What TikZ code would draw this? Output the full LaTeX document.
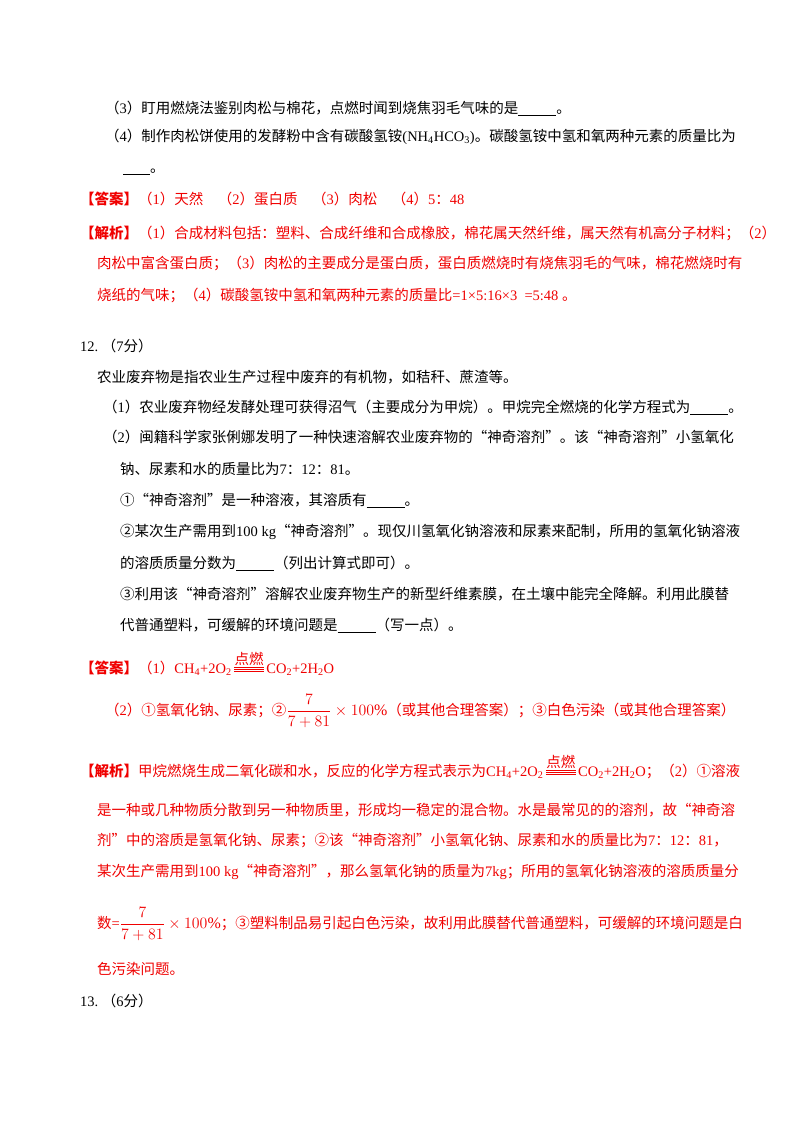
\documentclass[tikz,border=0pt]{standalone}
\usepackage{fontspec}
\setmainfont{Liberation Serif}
\newfontfamily\cjk{Noto Sans CJK SC}
\XeTeXinterchartokenstate=1
\newXeTeXintercharclass\cjkcls
\newcount\cjkcnt
\def\setcjkrange#1#2{\cjkcnt=#1\relax\loop\XeTeXcharclass\cjkcnt=\cjkcls\ifnum\cjkcnt<#2\advance\cjkcnt 1\repeat}
\setcjkrange{"4E00}{"9FFF}
\setcjkrange{"3000}{"303F}
\setcjkrange{"FF00}{"FFEF}
\setcjkrange{"2460}{"2473}
\setcjkrange{"201C}{"201D}
\XeTeXinterchartoks 0 \cjkcls = {\cjk}
\XeTeXinterchartoks 4095 \cjkcls = {\cjk}
\XeTeXinterchartoks \cjkcls 0 = {\rmfamily}
\XeTeXinterchartoks \cjkcls 4095 = {\rmfamily}
\definecolor{ans}{RGB}{240,0,0}
\newcommand\blank[1]{\rule[-2pt]{#1pt}{0.6pt}}
\newcommand\ignite{\,\raisebox{2pt}{\vbox{\hbox to 30pt{\hss\cjk 点燃\hss}\kern1pt\hrule width30pt height0.6pt\kern1.4pt\hrule width30pt height0.6pt\kern1.4pt\hrule width30pt height0.6pt}}\,}
\newcommand\sub[1]{\textsubscript{#1}}
\newcommand\myfrac{\scalebox{1.1}{$\displaystyle\frac{7}{7+81}\times100\%$}}
\begin{document}
\begin{tikzpicture}[x=1pt,y=-1pt,
  every node/.style={anchor=west,inner sep=0pt,font=\fontsize{14.5}{17}\selectfont},
  red/.style={text=ans}]
\useasboundingbox[fill=white] (0,0) rectangle (800,1132);
\node (a1) at (105,108) {（3）盯用燃烧法鉴别肉松与棉花，点燃时闻到烧焦羽毛气味的是\blank{38}。};
\node (a2) at (105,137) {（4）制作肉松饼使用的发酵粉中含有碳酸氢铵(NH\sub{4}HCO\sub{3})。碳酸氢铵中氢和氧两种元素的质量比为};
\node (a3) at (123,172) {\blank{27}。};
\node[red] (a4) at (80,199) {{\bfseries 【答案】}（1）天然\quad（2）蛋白质\quad（3）肉松\quad（4）5：48};
\node[red] (a5) at (80,233) {{\bfseries 【解析】}（1）合成材料包括：塑料、合成纤维和合成橡胶，棉花属天然纤维，属天然有机高分子材料；（2）};
\node[red] (a6) at (97,263) {肉松中富含蛋白质；（3）肉松的主要成分是蛋白质，蛋白质燃烧时有烧焦羽毛的气味，棉花燃烧时有};
\node[red] (a7) at (97,295) {烧纸的气味；（4）碳酸氢铵中氢和氧两种元素的质量比=1×5:16×3\ \ =5:48\ 。};
\node (b0) at (80,346) {12.\ （7分）};
\node (b1) at (97,377) {农业废弃物是指农业生产过程中废弃的有机物，如秸秆、蔗渣等。};
\node (b2) at (103,407) {（1）农业废弃物经发酵处理可获得沼气（主要成分为甲烷）。甲烷完全燃烧的化学方程式为\blank{38}。};
\node (b3) at (103,437) {（2）闽籍科学家张俐娜发明了一种快速溶解农业废弃物的“神奇溶剂”。该“神奇溶剂”小氢氧化};
\node (b4) at (120,469) {钠、尿素和水的质量比为7：12：81。};
\node (b5) at (120,500) {①“神奇溶剂”是一种溶液，其溶质有\blank{38}。};
\node (b6) at (120,532) {②某次生产需用到100 kg“神奇溶剂”。现仅川氢氧化钠溶液和尿素来配制，所用的氢氧化钠溶液};
\node (b7) at (120,563) {的溶质质量分数为\blank{38}（列出计算式即可）。};
\node (b8) at (120,594) {③利用该“神奇溶剂”溶解农业废弃物生产的新型纤维素膜，在土壤中能完全降解。利用此膜替};
\node (b9) at (120,625) {代普通塑料，可缓解的环境问题是\blank{38}（写一点）。};
\node[red] (c1) at (80,664) {{\bfseries 【答案】}（1）CH\sub{4}+2O\sub{2}\ignite CO\sub{2}+2H\sub{2}O};
\node[red] (c2) at (105,711) {（2）①氢氧化钠、尿素；②\myfrac（或其他合理答案）；③白色污染（或其他合理答案）};
\node[red] (d1) at (80,767) {{\bfseries 【解析】}甲烷燃烧生成二氧化碳和水，反应的化学方程式表示为CH\sub{4}+2O\sub{2}\ignite CO\sub{2}+2H\sub{2}O；（2）①溶液};
\node[red] (d2) at (97,810) {是一种或几种物质分散到另一种物质里，形成均一稳定的混合物。水是最常见的的溶剂，故“神奇溶};
\node[red] (d3) at (97,841) {剂”中的溶质是氢氧化钠、尿素；②该“神奇溶剂”小氢氧化钠、尿素和水的质量比为7：12：81，};
\node[red] (d4) at (97,872) {某次生产需用到100 kg“神奇溶剂”，那么氢氧化钠的质量为7kg；所用的氢氧化钠溶液的溶质质量分};
\node[red] (d5) at (97,924) {数=\myfrac；③塑料制品易引起白色污染，故利用此膜替代普通塑料，可缓解的环境问题是白};
\node[red] (d6) at (97,969) {色污染问题。};
\node (e1) at (80,1001) {13.\ （6分）};
\end{tikzpicture}
\end{document}
